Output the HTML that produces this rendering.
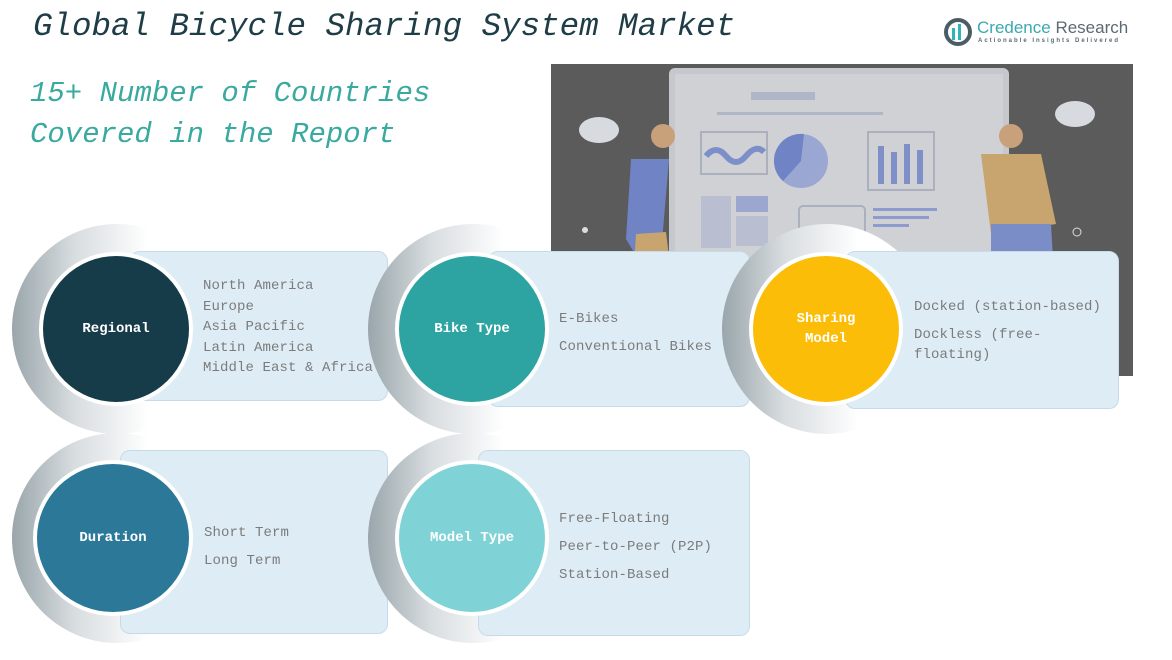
<!DOCTYPE html>
<html><head><meta charset="utf-8"><style>
body{margin:0;width:1172px;height:660px;background:#fff;position:relative;overflow:hidden;font-family:"Liberation Mono",monospace}
.a{position:absolute}
.t{left:33px;top:8px;font-size:32.5px;font-style:italic;color:#1e3d47;font-family:"Liberation Mono",monospace}
.s{left:30px;top:73px;font-size:29px;font-style:italic;color:#3aa99f;line-height:41px}
.halo{border-radius:50%;background:linear-gradient(90deg,#9aa6ab 0%,#d8dde0 30%,#fff 65%)}
.card{background:#deedf5;border:1.5px solid #c6dbe7;border-radius:10px;box-sizing:border-box}
.c{border-radius:50%;border:4px solid #fff;box-sizing:border-box;color:#fff;font-weight:bold;font-size:14px;display:flex;align-items:center;justify-content:center;text-align:center;line-height:20px;font-family:"Liberation Mono",monospace}
.tx{color:#7b7b7b;font-size:14px;line-height:20.5px;letter-spacing:0.1px}
</style></head><body>
<div class="a t">Global Bicycle Sharing System Market</div>
<div class="a s">15+ Number of Countries<br>Covered in the Report</div>
<div class="a" style="left:944px;top:18px;width:28px;height:28px;border-radius:50%;border:4px solid #4a5d66;box-sizing:border-box"></div>
<div class="a" style="left:952px;top:28px;width:3px;height:12px;background:#2fb5b5"></div>
<div class="a" style="left:958px;top:24px;width:3px;height:16px;background:#2fb5b5"></div>
<div class="a" style="left:977px;top:18px;font-family:'Liberation Sans',sans-serif;font-size:17px;color:#3aa9b0">Credence <span style="color:#5c6a72">Research</span></div>
<div class="a" style="left:978px;top:38px;font-family:'Liberation Sans',sans-serif;font-size:6px;letter-spacing:2px;color:#5c6a72;font-weight:bold">Actionable Insights Delivered</div>

<svg class="a" style="left:551px;top:64px" width="582" height="312">
<rect width="582" height="312" fill="#5b5b5b"/>
<rect x="118" y="4" width="340" height="300" rx="6" fill="#c6c8cd"/>
<rect x="124" y="10" width="328" height="294" fill="#cfd1d4"/>
<rect x="200" y="28" width="64" height="8" fill="#aeb6c8"/>
<rect x="166" y="48" width="166" height="3" fill="#aeb6c8"/>
<rect x="150" y="68" width="66" height="42" fill="none" stroke="#aab0bd" stroke-width="2"/>
<path d="M155 92 q10-12 20 0 t20 0 t18-4" stroke="#7c8fc8" stroke-width="6" fill="none"/>
<circle cx="250" cy="97" r="27" fill="#9aa7d3"/>
<path d="M250 97 L253 70 A27 27 0 0 0 232 117 Z" fill="#6f83c5"/>
<rect x="317" y="68" width="66" height="58" fill="none" stroke="#aab0bd" stroke-width="2"/>
<rect x="327" y="82" width="6" height="38" fill="#7f90c8"/><rect x="340" y="88" width="6" height="32" fill="#7f90c8"/><rect x="353" y="80" width="6" height="40" fill="#7f90c8"/><rect x="366" y="86" width="6" height="34" fill="#7f90c8"/>
<rect x="150" y="132" width="30" height="52" fill="#b9bfd0"/><rect x="185" y="132" width="32" height="16" fill="#9ba7cf"/><rect x="185" y="152" width="32" height="30" fill="#b9bfd0"/>
<rect x="248" y="142" width="66" height="42" rx="4" fill="none" stroke="#aab0bd" stroke-width="2"/>
<rect x="322" y="144" width="64" height="3" fill="#8d9ccc"/><rect x="322" y="152" width="56" height="3" fill="#8d9ccc"/><rect x="322" y="160" width="36" height="3" fill="#8d9ccc"/>
<path d="M80 95 L118 95 L110 190 L90 200 L75 175 Z" fill="#6f83c5"/>
<circle cx="112" cy="72" r="12" fill="#c8a07a"/>
<path d="M85 170 L115 168 L125 250 L80 250 Z" fill="#c8a56e"/>
<path d="M430 90 L490 90 L505 160 L440 170 Z" fill="#c8a56e"/>
<circle cx="460" cy="72" r="12" fill="#c8a07a"/>
<path d="M440 160 L500 160 L505 250 L440 250 Z" fill="#7b8dc6"/>
<ellipse cx="48" cy="66" rx="20" ry="13" fill="#d7dade"/>
<ellipse cx="524" cy="50" rx="20" ry="13" fill="#d7dade"/>
<circle cx="34" cy="166" r="3" fill="#ddd"/>
<circle cx="526" cy="168" r="4" fill="none" stroke="#ddd"/>
</svg>

<!-- row 1 -->
<div class="a halo" style="left:12px;top:224px;width:210px;height:210px"></div>
<div class="a card" style="left:130px;top:251px;width:258px;height:150px"></div>
<div class="a c" style="left:39px;top:252px;width:154px;height:154px;background:#173c49">Regional</div>
<div class="a tx" style="left:203px;top:276px">North America<br>Europe<br>Asia Pacific<br>Latin America<br>Middle East &amp; Africa</div>

<div class="a halo" style="left:368px;top:224px;width:210px;height:210px"></div>
<div class="a card" style="left:488px;top:251px;width:262px;height:156px"></div>
<div class="a c" style="left:395px;top:252px;width:154px;height:154px;background:#2da3a2">Bike Type</div>
<div class="a tx" style="left:559px;top:305px;line-height:28px">E-Bikes<br>Conventional Bikes</div>

<div class="a halo" style="left:722px;top:224px;width:210px;height:210px"></div>
<div class="a card" style="left:845px;top:251px;width:274px;height:158px"></div>
<div class="a c" style="left:749px;top:252px;width:154px;height:154px;background:#fbbd08">Sharing<br>Model</div>
<div class="a tx" style="left:914px;top:297px;line-height:20px">Docked (station-based)<br><span style="display:block;margin-top:8px">Dockless (free-<br>floating)</span></div>

<!-- row 2 -->
<div class="a halo" style="left:12px;top:433px;width:210px;height:210px"></div>
<div class="a card" style="left:120px;top:450px;width:268px;height:184px"></div>
<div class="a c" style="left:33px;top:460px;width:160px;height:156px;background:#2b7899">Duration</div>
<div class="a tx" style="left:204px;top:519px;line-height:28px">Short Term<br>Long Term</div>

<div class="a halo" style="left:368px;top:433px;width:210px;height:210px"></div>
<div class="a card" style="left:478px;top:450px;width:272px;height:186px"></div>
<div class="a c" style="left:395px;top:460px;width:154px;height:156px;background:#7fd3d6">Model Type</div>
<div class="a tx" style="left:559px;top:505px;line-height:28px">Free-Floating<br>Peer-to-Peer (P2P)<br>Station-Based</div>
</body></html>
